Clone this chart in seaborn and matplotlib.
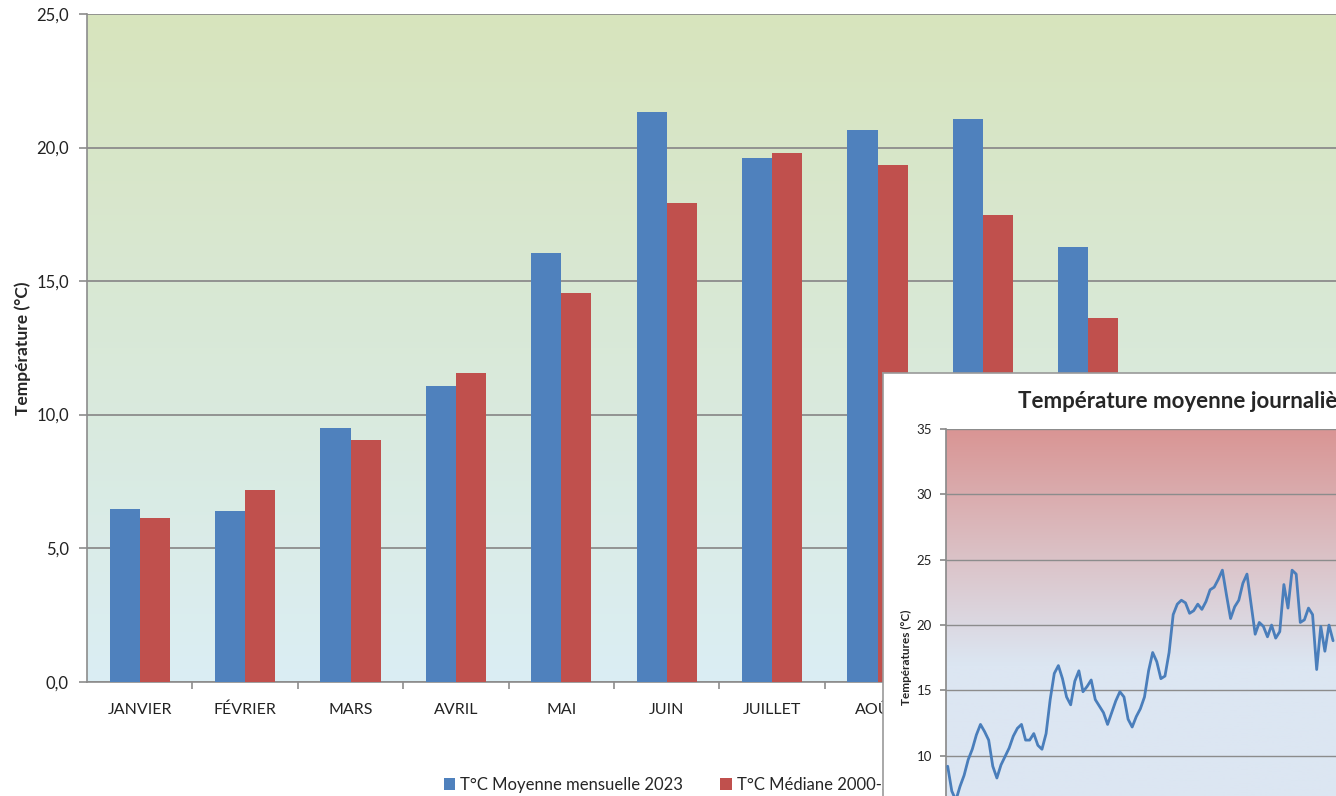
import numpy as np
import pandas as pd
import seaborn as sns
import matplotlib.pyplot as plt
from matplotlib.colors import LinearSegmentedColormap

# monthly data (main chart)
months = ["JANVIER", "FÉVRIER", "MARS", "AVRIL", "MAI", "JUIN",
          "JUILLET", "AOÛT", "SEPTEMBRE", "OCTOBRE", "NOVEMBRE", "DÉCEMBRE"]
moy_2023 = [6.47, 6.39, 9.5, 11.07, 16.05, 21.33, 19.6, 20.67, 21.08, 16.28, 9.6, 7.4]
med_2000 = [6.13, 7.17, 9.05, 11.57, 14.55, 17.93, 19.8, 19.35, 17.47, 13.6, 9.0, 6.2]
series = ["T°C Moyenne mensuelle 2023", "T°C Médiane 2000-2022"]
yticks = [0, 5, 10, 15, 20, 25]
ytick_labels = ["0,0", "5,0", "10,0", "15,0", "20,0", "25,0"]

# daily mean temperature (inset), visible part only
daily = [9.2, 7.3, 6.6, 7.65, 8.5, 9.7, 10.5, 11.6, 12.4, 11.85, 11.2, 9.2, 8.3,
         9.3, 9.95, 10.6, 11.5, 12.1, 12.4, 11.2, 11.2, 11.7, 10.8, 10.5, 11.7,
         14.3, 16.3, 16.9, 15.9, 14.5, 13.9, 15.7, 16.5, 14.9, 15.3, 15.8, 14.3,
         13.8, 13.3, 12.4, 13.3, 14.2, 14.9, 14.5, 12.8, 12.2, 13.0, 13.6, 14.5,
         16.5, 17.9, 17.2, 15.9, 16.1, 17.9, 20.8, 21.6, 21.9, 21.7, 20.9, 21.1,
         21.6, 21.2, 21.8, 22.7, 22.9, 23.5, 24.2, 22.3, 20.5, 21.4, 21.9, 23.2,
         23.9, 21.6, 19.3, 20.2, 19.9, 19.1, 20.0, 19.0, 19.5, 23.1, 21.3, 24.2,
         23.9, 20.2, 20.4, 21.3, 20.8, 16.6, 19.9, 18.0, 20.0, 18.8]
inset_yticks = [0, 5, 10, 15, 20, 25, 30, 35]

BLUE = "#4f81bd"
RED = "#c0504d"
GRID = "#8c8c8c"

sns.set_theme(style="white")
plt.rcParams['font.family'] = ['Lato', 'DejaVu Sans']

W, H = 1336, 796
def box(l, t, r, b):
    return [l / W, (H - b) / H, (r - l) / W, (b - t) / H]

fig = plt.figure(figsize=(W / 100, H / 100), dpi=100)

# ---- main chart
ax = fig.add_axes(box(87, 14, 87 + 12 * 105.4, 681.7))
grad = LinearSegmentedColormap.from_list("g", ["#dbeef4", "#d7e4bd"])
ax.imshow(np.linspace(0, 1, 256).reshape(-1, 1), cmap=grad, origin="lower",
          extent=[0, 1, 0, 1], transform=ax.transAxes, aspect="auto", zorder=0)

df = pd.DataFrame({
    "mois": months * 2,
    "temp": moy_2023 + med_2000,
    "serie": [series[0]] * 12 + [series[1]] * 12,
})
sns.barplot(data=df, x="mois", y="temp", hue="serie", palette=[BLUE, RED],
            width=0.57, gap=0, saturation=1, linewidth=0, ax=ax, zorder=3)
ax.set_xlim(-0.5, 11.5)
ax.set_ylim(0, 25)
ax.set_yticks(yticks)
ax.set_yticklabels(ytick_labels)
ax.yaxis.grid(True, color=GRID, linewidth=1.3, zorder=1)
ax.set_axisbelow(True)
ax.set_xlabel("")
ax.set_ylabel("Température (°C)", fontsize=12.5, fontweight="bold", labelpad=4)
for s in ["top", "right"]:
    ax.spines[s].set_visible(False)
for s in ["left", "bottom"]:
    ax.spines[s].set_color(GRID)
    ax.spines[s].set_linewidth(1.2)
ax.set_xticks(np.arange(12) + 0.5, minor=True)
ax.tick_params(axis="x", which="major", length=0, pad=15, labelsize=11.5, colors="#222222")
ax.tick_params(axis="x", which="minor", length=5, color=GRID, width=1.2, direction="out", bottom=True)
ax.tick_params(axis="y", length=6, color=GRID, width=1.2, direction="out", left=True,
               pad=7, labelsize=12, labelcolor="#222222")

handles, labels = ax.get_legend_handles_labels()
ax.legend_.remove()
fig.legend(handles, labels, loc="center left", bbox_to_anchor=(437 / W, (H - 785) / H),
           ncol=2, frameon=False, handlelength=0.7, handleheight=0.7,
           handletextpad=0.3, columnspacing=2.2, fontsize=12, borderaxespad=0)

# ---- inset frame
frame = fig.add_axes(box(883, 373, 1400, 860), zorder=10)
frame.set_facecolor("white")
frame.set_xticks([])
frame.set_yticks([])
for s in frame.spines.values():
    s.set_color("#9a9a9a")
    s.set_linewidth(1.2)
fig.text(1018 / W, (H - 408) / H, "Température moyenne journalière 2023",
         fontsize=16, fontweight="bold", va="baseline", ha="left", zorder=12)

# ---- inset chart
ins = fig.add_axes(box(946, 429, 1546, 886.5), zorder=11)
x0, x1 = -0.41, -0.41 + 600 / 4.10
red_blue = LinearSegmentedColormap.from_list(
    "rb", [(0, "#dce6f2"), (17 / 35, "#dce6f2"), (25 / 35, "#dbc3c8"), (1, "#d99594")])
ins.imshow(np.linspace(0, 1, 256).reshape(-1, 1), cmap=red_blue, origin="lower",
           extent=[0, 1, 0, 1], transform=ins.transAxes, aspect="auto", zorder=0)
days = pd.DataFrame({"jour": np.arange(len(daily)), "temp": daily})
sns.lineplot(data=days, x="jour", y="temp", color="#4a7ebb", linewidth=2.0, ax=ins, zorder=3)
ins.set_xlim(x0, x1)
ins.set_ylim(0, 35)
ins.set_yticks(inset_yticks)
ins.yaxis.grid(True, color=GRID, linewidth=1.0, zorder=1)
ins.set_axisbelow(True)
ins.set_xticks([])
ins.set_xlabel("")
ins.set_ylabel("Températures (°C)", fontsize=8.5, fontweight="bold", labelpad=3)
for s in ["top", "right", "bottom"]:
    ins.spines[s].set_visible(False)
ins.spines["left"].set_color(GRID)
ins.tick_params(axis="y", length=4, color=GRID, direction="out", left=True,
                pad=6, labelsize=9.5, labelcolor="#222222")

fig.savefig("out.png", dpi=100)
